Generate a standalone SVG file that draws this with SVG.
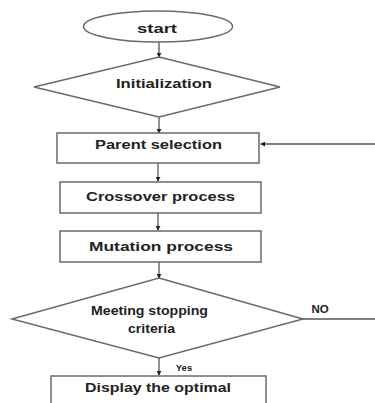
<svg xmlns="http://www.w3.org/2000/svg" width="375" height="403" viewBox="0 0 375 403">
<style>
.shape{fill:#fff;stroke:#6a6a6a;stroke-width:1.5}
.conn{fill:none;stroke:#555;stroke-width:1.3}
.t{font-family:"Liberation Sans",Arial,sans-serif;font-weight:bold;fill:#222;text-anchor:middle}
</style>
<defs>
<marker id="ah" viewBox="0 0 6 6" refX="5" refY="3" markerWidth="5" markerHeight="5" orient="auto" markerUnits="userSpaceOnUse">
<path d="M0,0 L6,3 L0,6 Z" fill="#222"/>
</marker>
</defs>
<rect width="375" height="403" fill="#fff"/>
<g id="connectors">
<line class="conn" x1="159" y1="42" x2="159" y2="57" marker-end="url(#ah)"/>
<line class="conn" x1="159" y1="117" x2="159" y2="133" marker-end="url(#ah)"/>
<line class="conn" x1="158" y1="163" x2="158" y2="181" marker-end="url(#ah)"/>
<line class="conn" x1="158" y1="213" x2="158" y2="230" marker-end="url(#ah)"/>
<line class="conn" x1="159" y1="262" x2="159" y2="278" marker-end="url(#ah)"/>
<line class="conn" x1="159" y1="358" x2="159" y2="375" marker-end="url(#ah)"/>
<line class="conn" x1="303" y1="319" x2="375" y2="319"/>
<line class="conn" x1="375" y1="144" x2="261" y2="144" marker-end="url(#ah)"/>
<text class="t" x="184" y="371" font-size="9.5">Yes</text>
<text class="t" x="320" y="313" font-size="11.5">NO</text>
</g>
<g id="start">
<ellipse class="shape" cx="158" cy="26.5" rx="74.5" ry="15.5"/>
<text class="t" x="157" y="33" font-size="13" textLength="40" lengthAdjust="spacingAndGlyphs">start</text>
</g>
<g id="init">
<polygon class="shape" points="159,57 280,87 159,117 34,87"/>
<text class="t" x="164" y="88" font-size="12" textLength="96" lengthAdjust="spacingAndGlyphs">Initialization</text>
</g>
<g id="parent">
<rect class="shape" x="57" y="133" width="202" height="30"/>
<text class="t" x="158.5" y="149" font-size="13.5" textLength="127" lengthAdjust="spacingAndGlyphs">Parent selection</text>
</g>
<g id="crossover">
<rect class="shape" x="60" y="182" width="201" height="31"/>
<text class="t" x="160.5" y="201" font-size="13.5" textLength="149" lengthAdjust="spacingAndGlyphs">Crossover process</text>
</g>
<g id="mutation">
<rect class="shape" x="60" y="231" width="201" height="31"/>
<text class="t" x="161" y="251" font-size="13.5" textLength="144" lengthAdjust="spacingAndGlyphs">Mutation process</text>
</g>
<g id="stop">
<polygon class="shape" points="159,278 303,319 159,358 12,319"/>
<text class="t" x="149.5" y="315" font-size="13.5" textLength="117" lengthAdjust="spacingAndGlyphs">Meeting stopping</text>
<text class="t" x="151.5" y="333" font-size="13.5" textLength="47" lengthAdjust="spacingAndGlyphs">criteria</text>
</g>
<g id="display">
<rect class="shape" x="51" y="376" width="215" height="44"/>
<text class="t" x="158" y="392" font-size="13.5" textLength="146" lengthAdjust="spacingAndGlyphs">Display the optimal</text>
</g>
</svg>
